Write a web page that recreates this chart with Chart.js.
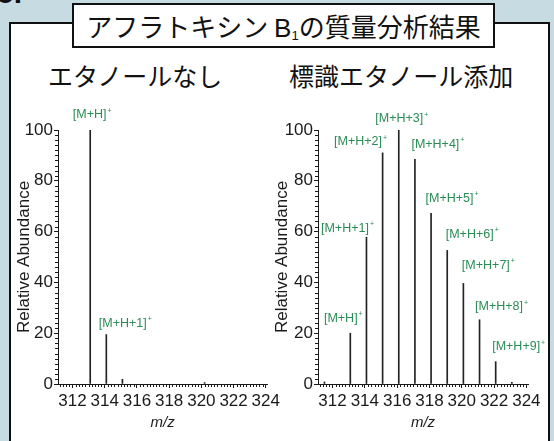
<!DOCTYPE html>
<html>
<head>
<meta charset="utf-8">
<script src="https://cdn.jsdelivr.net/npm/chart.js@4/dist/chart.umd.min.js"></script>
<style>
  html, body { margin: 0; padding: 0; }
  body {
    width: 554px; height: 441px; overflow: hidden; position: relative;
    background: #c7dbe2;
    font-family: "Noto Sans CJK JP", sans-serif; color: #111;
  }
  .figno { position: absolute; left: -3px; top: -24px; font: bold 30px "Liberation Sans", Arial, sans-serif; }
  .panel { position: absolute; left: 9px; top: 22px; width: 537px; height: 440px; background: #fff; border: 2px solid #111; }
  .title {
    position: absolute; left: 72px; top: 3px; width: 419px; height: 41px;
    background: #fff; border: 2px solid #111; text-align: center;
    font-size: 26px; line-height: 41px; white-space: nowrap;
  }
  .title .b { font-family: "Liberation Sans", Arial, sans-serif; }
  .title sub { font-family: "Liberation Sans", Arial, sans-serif; font-size: 13px; vertical-align: -3px; }
  .sub { position: absolute; top: 59px; font-size: 25px; line-height: 32px; white-space: nowrap; }
  canvas { position: absolute; top: 100px; }
</style>
</head>
<body>
<div class="figno">5.</div>
<div class="panel"></div>
<div class="title">アフラトキシン <span class="b">B</span><sub>1</sub>の質量分析結果</div>
<div class="sub" style="left:48px">エタノールなし</div>
<div class="sub" style="left:289px">標識エタノール添加</div>
<canvas id="plainChart" width="272" height="341" style="left:11px"></canvas>
<canvas id="labeledChart" width="276" height="341" style="left:270px"></canvas>

<script>
// tick labels
const xTickValues = [312, 314, 316, 318, 320, 322, 324];
const yTickValues = [0, 20, 40, 60, 80, 100];

// left spectrum: no ethanol
const plainMz = [313.1, 314.1, 315.1, 320.2];
const plainAbundance = [100, 19.5, 1.8, 0.6];
const plainLabels = ['[M+H]', '[M+H+1]', null, null];

// right spectrum: labelled ethanol added
const labeledMz = [311.5, 313.1, 314.1, 315.1, 316.1, 317.1, 318.1, 319.1, 320.1, 321.1, 322.1, 323.1];
const labeledAbundance = [0.8, 20, 57.8, 91, 100, 88.5, 67.2, 52.6, 39.6, 25.3, 8.8, 0.7];
const labeledLabels = [null, '[M+H]', '[M+H+1]', '[M+H+2]', '[M+H+3]', '[M+H+4]',
  '[M+H+5]', '[M+H+6]', '[M+H+7]', '[M+H+8]', '[M+H+9]', null];

// where each label sits relative to its peak top (px)
const plainLabelShift = [2, 19, 0, 0];
const plainLabelRise = [15, 11, 0, 0];
const labeledLabelShift = [0, -7, -19, -22, 3, 23, 21, 25, 25, 22, 23, 0];
const labeledLabelRise = [0, 15, 9, 11, 11, 15, 15, 16, 18, 13, 15, 0];

const LABEL_GREEN = '#2a8c55';
const INK = '#1a1a1a';
const SANS = '"Liberation Sans", Arial, sans-serif';

function peakLabelPlugin(mz, values, labels, shift, rise) {
  return {
    id: 'peakLabels',
    afterDatasetsDraw(chart) {
      const { ctx, scales: { x, y } } = chart;
      ctx.save();
      ctx.fillStyle = LABEL_GREEN;
      ctx.textBaseline = 'middle';
      ctx.textAlign = 'left';
      labels.forEach((text, i) => {
        if (!text) return;
        ctx.font = '12.5px ' + SANS;
        const w = ctx.measureText(text).width;
        ctx.font = '7px ' + SANS;
        const ws = ctx.measureText('+').width;
        const cx = x.getPixelForValue(mz[i]) + shift[i];
        const cy = y.getPixelForValue(values[i]) - rise[i];
        const left = cx - (w + ws + 1) / 2;
        ctx.font = '12.5px ' + SANS;
        ctx.fillText(text, left, cy);
        ctx.font = '7px ' + SANS;
        ctx.fillText('+', left + w + 1, cy - 4);
      });
      ctx.restore();
    }
  };
}

// small minor ticks on both axes
const minorTicks = {
  id: 'minorTicks',
  afterDraw(chart) {
    const { ctx, scales: { x, y } } = chart;
    ctx.save();
    ctx.strokeStyle = INK;
    ctx.lineWidth = 1;
    ctx.beginPath();
    for (let k = 1; k < 50; k++) {
      if (k % 10 === 0) continue;
      const py = Math.round(y.getPixelForValue(k * 2)) + 0.5;
      ctx.moveTo(x.left - 3, py);
      ctx.lineTo(x.left, py);
    }
    for (let k = 1556; k <= 1620; k++) {
      if (k % 10 === 0) continue;
      const v = k / 5;
      if (v < x.min || v > x.max) continue;
      const px = Math.round(x.getPixelForValue(v)) + 0.5;
      ctx.moveTo(px, y.bottom);
      ctx.lineTo(px, y.bottom + 3);
    }
    ctx.stroke();
    ctx.restore();
  }
};

function drawSpectrum(id, mz, values, labels, shift, rise, axisWidth, titlePad, rightPad) {
  const canvas = document.getElementById(id);
  return new Chart(canvas.getContext('2d'), {
    type: 'bar',
    data: {
      datasets: [{
        data: mz.map((m, i) => ({ x: m, y: values[i] })),
        backgroundColor: '#222',
        borderWidth: 0,
        barThickness: 1
      }]
    },
    options: {
      responsive: false,
      animation: false,
      layout: { autoPadding: false, padding: { left: 0, top: 30, right: rightPad, bottom: 0 } },
      plugins: { legend: { display: false }, tooltip: { enabled: false } },
      scales: {
        x: {
          type: 'linear',
          offset: false,
          min: 311.1,
          max: 324.1,
          afterBuildTicks: s => { s.ticks = xTickValues.map(v => ({ value: v })); },
          afterFit: s => { s.height = 57; },
          border: { display: true, color: INK, width: 1 },
          grid: { offset: false, drawOnChartArea: false, tickLength: 4, tickColor: INK },
          ticks: { color: INK, font: { family: SANS, size: 17 }, padding: 3, maxRotation: 0 },
          title: {
            display: true, text: 'm/z', color: INK,
            font: { family: SANS, size: 15, style: 'italic', lineHeight: 1 },
            padding: { top: 0, bottom: 11 }
          }
        },
        y: {
          min: 0,
          max: 100,
          afterBuildTicks: s => { s.ticks = yTickValues.map(v => ({ value: v })); },
          afterFit: s => { s.width = axisWidth; },
          border: { display: true, color: INK, width: 1 },
          grid: { drawOnChartArea: false, tickLength: 4, tickColor: INK },
          ticks: { color: INK, font: { family: SANS, size: 17 }, padding: 1 },
          title: {
            display: true, text: 'Relative Abundance', color: INK,
            font: { family: SANS, size: 17, lineHeight: 1 },
            padding: { top: titlePad, bottom: 0 }
          }
        }
      }
    },
    plugins: [peakLabelPlugin(mz, values, labels, shift, rise), minorTicks]
  });
}

drawSpectrum('plainChart', plainMz, plainAbundance, plainLabels,
  plainLabelShift, plainLabelRise, 47, 5, 3);
drawSpectrum('labeledChart', labeledMz, labeledAbundance, labeledLabels,
  labeledLabelShift, labeledLabelRise, 48, 4, 18);
</script>
</body>
</html>
